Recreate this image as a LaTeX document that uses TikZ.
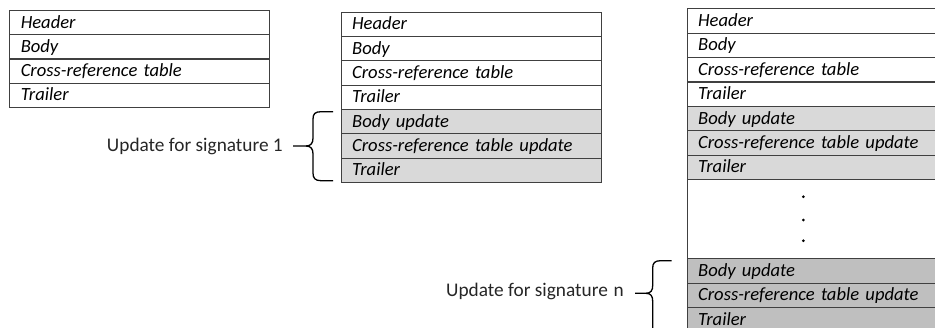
\documentclass[tikz,border=0pt]{standalone}
\usepackage{fontspec}
\setmainfont{Carlito}
\definecolor{linegray}{HTML}{404040}
\definecolor{fillone}{HTML}{D9D9D9}
\definecolor{filltwo}{HTML}{BFBFBF}
\definecolor{labelgray}{HTML}{262626}
\begin{document}
\begin{tikzpicture}[x=1pt,y=-1pt,
  rowbox/.style={draw=linegray, line width=0.9pt, anchor=north west,
    minimum height=24.35pt, inner xsep=11pt, inner ysep=0pt,
    text height=13.5pt, text depth=2.5pt, align=left,
    font=\itshape\fontsize{18.6}{20}\selectfont},
  updlabel/.style={anchor=base east, inner sep=0pt, text=labelgray,
    font=\fontsize{19.3}{21}\selectfont},
  bracepath/.style={draw=black, line width=1.3pt},
  gapdot/.style={circle, fill=black, inner sep=0pt, minimum size=3pt}]
\path[use as bounding box] (0,0) rectangle (935,327);
\clip (0,0) rectangle (935,327);

% original file
\foreach \t [count=\i from 0] in {Header,Body,Cross-reference table,Trailer}
  \node[rowbox, minimum width=260pt, text width=238pt] (a\i) at ({9.3},{10+\i*24.2}) {\t};

% file after the first signature
\foreach \t [count=\i from 0] in {Header,Body,Cross-reference table,Trailer}
  \node[rowbox, minimum width=260.3pt, text width=238.3pt] (b\i) at ({340.7},{11.7+\i*24.3}) {\t};
\foreach \t [count=\i from 4] in {Body update,Cross-reference table update,Trailer}
  \node[rowbox, fill=fillone, minimum width=260.3pt, text width=238.3pt] (b\i) at ({340.7},{11.7+\i*24.3}) {\t};

% file after n signatures
\foreach \t [count=\i from 0] in {Header,Body,Cross-reference table,Trailer}
  \node[rowbox, minimum width=280pt, text width=258pt] (c\i) at ({686.7},{8.3+\i*24.4}) {\t};
\foreach \t [count=\i from 4] in {Body update,Cross-reference table update,Trailer}
  \node[rowbox, fill=fillone, minimum width=280pt, text width=258pt] (c\i) at ({686.7},{8.3+\i*24.4}) {\t};
\node[rowbox, minimum width=280pt, text width=258pt, minimum height=79.3pt] (cgap) at (686.7,179.1) {};
\foreach \t [count=\i from 7] in {Body update,Cross-reference table update,Trailer}
  \node[rowbox, fill=filltwo, minimum width=280pt, text width=258pt] (c\i) at ({686.7},{258.4+(\i-7)*24.4}) {\t};

\node[gapdot] (d1) at (803.3,196.7) {};
\node[gapdot] (d2) at (803.3,220) {};
\node[gapdot] (d3) at (803.3,240.7) {};

% brace for the first signature
\node[updlabel] (lab1) at (283,151.7) {Update for signature 1};
\coordinate (tip1) at (293,146);
\draw[bracepath] (tip1) -- (306,146)
  .. controls (311,146) and (313,143) .. (313,138) -- (313,119)
  .. controls (313,114) and (315,111.7) .. (321,111.7) -- (333,111.7);
\draw[bracepath] (306,146)
  .. controls (311,146) and (313,149) .. (313,154) -- (313,173)
  .. controls (313,178) and (315,180.7) .. (321,180.7) -- (333,180.7);

% brace for signature n
\node[updlabel] (labn) at (624,296.7) {Update for signature\hspace{0.3em}n};
\coordinate (tipn) at (635,293.3);
\draw[bracepath] (tipn) -- (646,293.3)
  .. controls (651,293.3) and (652.7,290.3) .. (652.7,285.3) -- (652.7,268)
  .. controls (652.7,263) and (654.7,260.7) .. (660.7,260.7) -- (671.7,260.7);
\draw[bracepath] (646,293.3)
  .. controls (651,293.3) and (652.7,296.3) .. (652.7,301.3) -- (652.7,330);
\end{tikzpicture}
\end{document}
